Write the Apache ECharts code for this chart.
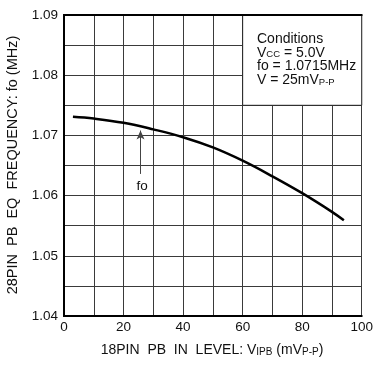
<!DOCTYPE html>
<html><head><meta charset="utf-8">
<script src="https://cdn.jsdelivr.net/npm/echarts@6/dist/echarts.min.js"></script>
<style>html,body{margin:0;padding:0;background:#fff}#c{width:376px;height:367px}</style>
</head><body><div id="c"></div>
<script>
const levels = [3, 10, 20, 30, 40, 50, 60, 70, 80, 90, 94];
const freqs = [1.0731, 1.0728, 1.0721, 1.0710, 1.0697, 1.0680, 1.0658, 1.0632, 1.0604, 1.0573, 1.0559];
const xTickLabels = ['0', '20', '40', '60', '80', '100'];
const yTickLabels = ['1.04', '1.05', '1.06', '1.07', '1.08', '1.09'];
const arrowX = 25.7, arrowFrom = 1.0636, arrowTo = 1.0708;
const F = '"Liberation Sans", Arial, Helvetica, sans-serif';
const chart = echarts.init(document.getElementById('c'), null, {renderer: 'canvas'});
const grid = {left: 64, top: 15, right: 12, bottom: 51};
const gl = {show: true, lineStyle: {color: '#3a3a3a', width: 1}};
chart.setOption({
  animation: false,
  backgroundColor: '#fff',
  grid: grid,
  xAxis: [{
    type: 'value', min: 0, max: 100, interval: 10,
    axisLine: {show: true, onZero: false, lineStyle: {color: '#000', width: 2}},
    axisTick: {show: false},
    splitLine: gl,
    axisLabel: {color: '#111', fontFamily: F, fontSize: 13.5, margin: 4,
      formatter: v => xTickLabels.includes(String(v)) ? String(v) : ''}
  }, {
    type: 'value', min: 0, max: 100, position: 'top', z: 10,
    axisLine: {show: true, lineStyle: {color: '#000', width: 2}},
    axisTick: {show: false}, axisLabel: {show: false}, splitLine: {show: false}
  }],
  yAxis: [{
    type: 'value', min: 1.04, max: 1.09, interval: 0.005,
    axisLine: {show: true, onZero: false, lineStyle: {color: '#000', width: 2}},
    axisTick: {show: false},
    splitLine: gl,
    axisLabel: {color: '#111', fontFamily: F, fontSize: 13.5, margin: 6,
      formatter: v => { const s = v.toFixed(2); return (Math.abs(v*100 - Math.round(v*100)) < 1e-6 && yTickLabels.includes(s)) ? s : ''; }}
  }, {
    type: 'value', min: 1.04, max: 1.09, position: 'right', z: 10,
    axisLine: {show: true, lineStyle: {color: '#000', width: 2}},
    axisTick: {show: false}, axisLabel: {show: false}, splitLine: {show: false}
  }],
  series: [{
    type: 'line', xAxisIndex: 0, yAxisIndex: 0,
    data: levels.map((x, i) => [x, freqs[i]]),
    smooth: 0.4, showSymbol: false, symbol: 'none',
    lineStyle: {color: '#000', width: 2.5},
    markArea: {
      silent: true,
      itemStyle: {color: '#fff', borderColor: '#222', borderWidth: 1},
      data: [[{coord: [60, 1.075]}, {coord: [100, 1.09]}]]
    },
    markLine: {
      silent: true, symbol: ['none', 'arrow'], symbolSize: [6, 9],
      lineStyle: {color: '#444', width: 1, type: 'solid'},
      label: {show: false},
      data: [[{coord: [arrowX, arrowFrom]}, {coord: [arrowX, arrowTo]}]]
    },
    markPoint: {
      silent: true, symbol: 'circle', symbolSize: 0,
      label: {show: true, formatter: 'fo', color: '#111', fontFamily: F, fontSize: 13.5, position: 'inside'},
      data: [{coord: [26.2, 1.0615]}]
    }
  }],
  graphic: [
    {type: 'text', left: 257, top: 32, z: 20, style: {
      text: '{n|Conditions}\n{n|V}{s|CC}{n| = 5.0V}\n{n|fo = 1.0715MHz}\n{n|V = 25mV}{s|P-P}',
      font: '14px ' + F, fill: '#111',
      rich: {n: {fontSize: 14, fontFamily: F, fill: '#111', lineHeight: 13.7, verticalAlign: 'bottom'},
             s: {fontSize: 9.5, fontFamily: F, fill: '#111', lineHeight: 13.7, verticalAlign: 'bottom'}}
    }},
    {type: 'text', x: 212, y: 349, z: 20, style: {
      text: '{n|18PIN  PB  IN  LEVEL: V}{s|IPB}{n| (mV}{s|P-P}{n|)}',
      align: 'center', verticalAlign: 'middle', font: '14px ' + F, fill: '#111',
      rich: {n: {fontSize: 14, fontFamily: F, fill: '#111', lineHeight: 16, verticalAlign: 'bottom'},
             s: {fontSize: 10, fontFamily: F, fill: '#111', lineHeight: 16, verticalAlign: 'bottom'}}
    }},
    {type: 'text', x: 12.5, y: 165, rotation: Math.PI/2, z: 20, style: {
      text: '28PIN  PB  EQ  FREQUENCY: fo (MHz)',
      align: 'center', verticalAlign: 'middle', font: '14.5px ' + F, fill: '#111'
    }}
  ]
});
</script></body></html>
